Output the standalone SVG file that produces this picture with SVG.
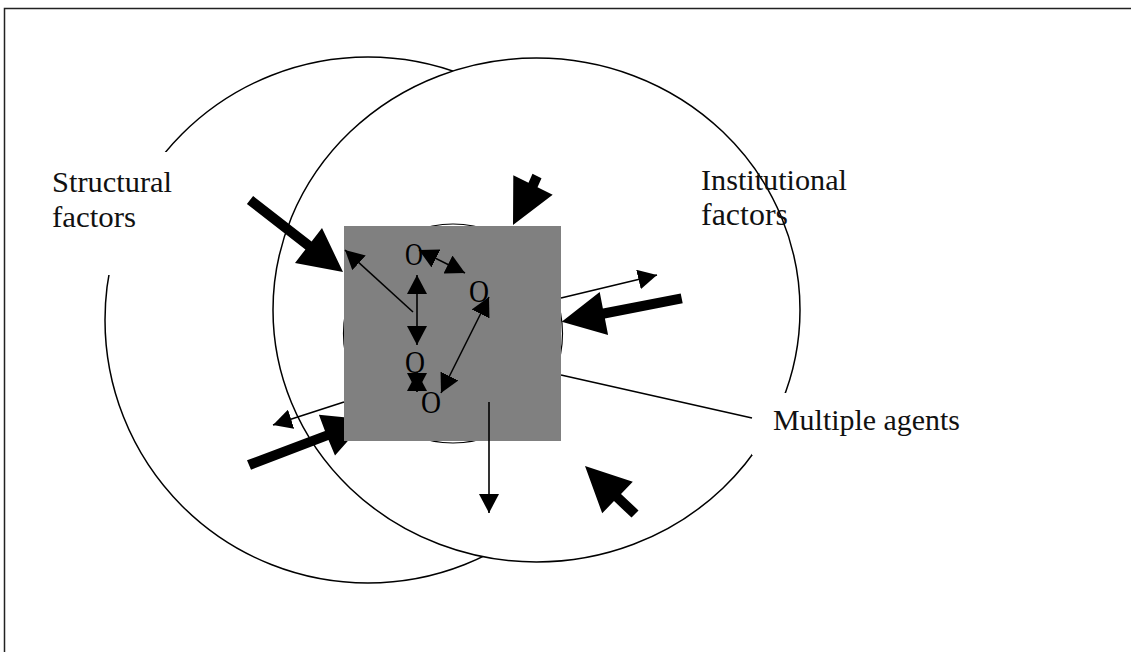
<svg xmlns="http://www.w3.org/2000/svg" width="1131" height="652" viewBox="0 0 1131 652">
<style>
.ring{fill:#fff;stroke:#000;stroke-width:1.5}
.lbl{font-family:"Liberation Serif",serif;font-size:30px;fill:#111}
.o{font-family:"Liberation Serif",serif;font-size:32px;fill:#000}
.thin{stroke:#000;stroke-width:1.6;fill:none}
.thick{fill:#000}
</style>
<defs>
<marker id="ah" viewBox="0 0 19 20" refX="19" refY="10" markerWidth="19" markerHeight="20" markerUnits="userSpaceOnUse" orient="auto-start-reverse">
<path d="M0,0 L19,10 L0,20 z" fill="#000"/>
</marker>
</defs>
<rect width="1131" height="652" fill="#fff"/>
<g id="frame">
<path d="M4.5,652 V8.5 H1131" fill="none" stroke="#222" stroke-width="1.5"/>
</g>
<g id="structural-factors">
<circle class="ring" cx="368" cy="320" r="263"/>
</g>
<g id="institutional-factors">
<ellipse class="ring" cx="536.5" cy="310" rx="263.5" ry="252"/>
</g>
<g id="label-structural">
<rect x="40" y="152" width="128" height="123" fill="#fff"/>
<text class="lbl" x="52" y="192" textLength="120" lengthAdjust="spacingAndGlyphs">Structural</text>
<text class="lbl" x="52" y="227" textLength="84" lengthAdjust="spacingAndGlyphs">factors</text>
</g>
<g id="label-institutional">
<text class="lbl" x="701" y="190" textLength="146" lengthAdjust="spacingAndGlyphs">Institutional</text>
<text class="lbl" x="701" y="225" style="font-size:32px" textLength="87" lengthAdjust="spacingAndGlyphs">factors</text>
</g>
<g id="label-agents">
<rect x="752" y="393" width="225" height="62" fill="#fff"/>
<text class="lbl" x="773" y="430" textLength="187" lengthAdjust="spacingAndGlyphs">Multiple agents</text>
</g>
<g id="connectors">
<line class="thin" x1="561" y1="375" x2="752" y2="418"/>
<polygon class="thick" points="253.1,196 311.6,241.5 322,228.1 343,272 295,262.9 305.4,249.5 246.9,204"/>
<polygon class="thick" points="541.5,178.2 537.5,187.2 552.7,194.8 513,225 513.3,175.2 528.5,182.8 532.5,173.8"/>
<polygon class="thick" points="682.7,303.2 604.9,318.4 608.1,335.1 561.7,321.7 599.7,291.9 602.9,308.6 680.7,293.4"/>
<polygon class="thick" points="251,469.7 328.5,440.1 335,455.4 366.8,419.5 318.9,414.8 325,430.9 247,460.3"/>
<polygon class="thick" points="638.5,510.4 621,493.9 632.8,481.7 585,466 602.2,513.3 614,501.1 631.5,517.6"/>
</g>
<g id="agents">
<circle cx="453" cy="333.5" r="109.5" fill="#fff" stroke="#000" stroke-width="1.2"/>
<rect x="344" y="226" width="217" height="215" fill="#808080"/>
</g>
<g id="agent-o1"><text class="o" x="405" y="265" textLength="18" lengthAdjust="spacingAndGlyphs">O</text></g>
<g id="agent-o2"><text class="o" x="469" y="302" textLength="20" lengthAdjust="spacingAndGlyphs">O</text></g>
<g id="agent-o3"><text class="o" x="405" y="373" textLength="20" lengthAdjust="spacingAndGlyphs">O</text></g>
<g id="agent-o4"><text class="o" x="421" y="413" textLength="20" lengthAdjust="spacingAndGlyphs">O</text></g>
<g id="agent-connectors">
<line class="thin" x1="413" y1="312" x2="345" y2="250" marker-end="url(#ah)"/>
<line class="thin" x1="417" y1="275" x2="417" y2="345" marker-start="url(#ah)" marker-end="url(#ah)"/>
<line class="thin" x1="419" y1="250" x2="465" y2="273" marker-start="url(#ah)" marker-end="url(#ah)"/>
<line class="thin" x1="489" y1="297" x2="441" y2="393" marker-start="url(#ah)" marker-end="url(#ah)"/>
<line class="thin" x1="417" y1="372" x2="417" y2="392" marker-start="url(#ah)" marker-end="url(#ah)"/>
<line class="thin" x1="489" y1="402" x2="489" y2="513" marker-end="url(#ah)"/>
<line class="thin" x1="561" y1="298" x2="657" y2="275" marker-end="url(#ah)"/>
<line class="thin" x1="344" y1="402" x2="273" y2="425" marker-end="url(#ah)"/>
</g>
</svg>
